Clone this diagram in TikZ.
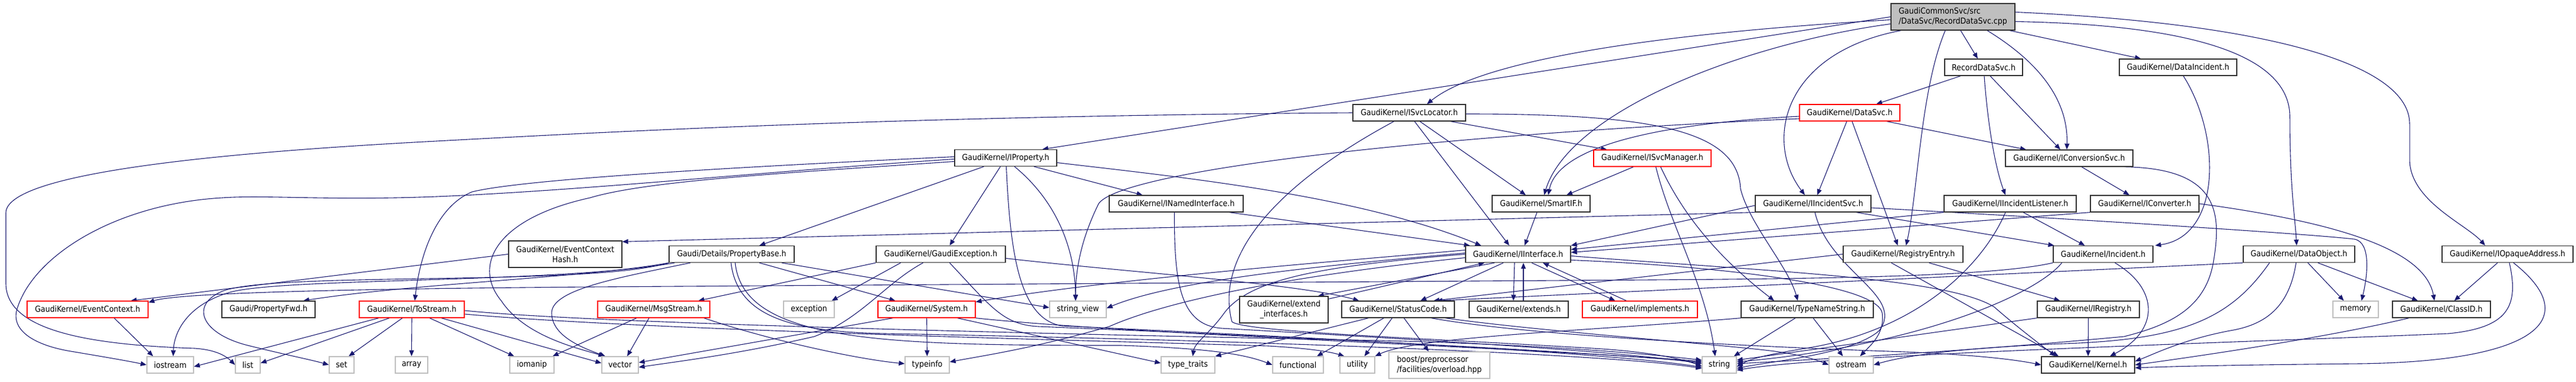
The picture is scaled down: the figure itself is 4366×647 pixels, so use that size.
\documentclass[tikz,border=0pt]{standalone}
\usepackage{fontspec}
\setmainfont{DejaVu Sans Condensed}
\usetikzlibrary{arrows.meta,backgrounds}
\definecolor{edgecol}{RGB}{25,25,112}
\definecolor{boxgray}{RGB}{191,191,191}
\definecolor{boxline}{RGB}{50,50,50}
\begin{document}
\begin{tikzpicture}[x=1pt,y=-1pt,font=\fontsize{14}{17}\selectfont,
  box/.style={draw=boxline,fill=white,line width=1.3pt,rectangle,minimum height=28pt,inner xsep=3pt,inner ysep=2pt,align=center},
  rbox/.style={box,draw=red},
  gbox/.style={box,draw=boxgray},
  e/.style={draw=edgecol,line width=1.1pt,-{Triangle[length=10pt,width=8pt]}}]
\useasboundingbox (0,0) rectangle (4366,647);
% ---- nodes ----
\node[box,fill=boxgray,minimum height=45pt,minimum width=210pt,align=left] (root) at (3310,28.5) {GaudiCommonSvc/src\\/DataSvc/RecordDataSvc.cpp};
\node[box,minimum width=132pt] (rds) at (3362,114) {RecordDataSvc.h};
\node[box,minimum width=199pt] (dinc) at (3691.5,114) {GaudiKernel/DataIncident.h};
\node[box,minimum width=191pt] (svcloc) at (2388.5,191) {GaudiKernel/ISvcLocator.h};
\node[rbox,minimum width=170pt] (datasvc) at (3135,191) {GaudiKernel/DataSvc.h};
\node[box,minimum width=173pt] (iprop) at (1704.5,267.5) {GaudiKernel/IProperty.h};
\node[rbox,minimum width=199pt] (svcmgr) at (2800.5,268) {GaudiKernel/ISvcManager.h};
\node[box,minimum width=216pt] (iconv) at (3507,268) {GaudiKernel/IConversionSvc.h};
\node[box,minimum width=227pt] (inamed) at (1993.5,345) {GaudiKernel/INamedInterface.h};
\node[box,minimum width=166pt] (smartif) at (2612,345) {GaudiKernel/SmartIF.h};
\node[box,minimum width=196pt] (iincsvc) at (3073,345) {GaudiKernel/IIncidentSvc.h};
\node[box,minimum width=224pt] (iinclst) at (3407,345) {GaudiKernel/IIncidentListener.h};
\node[box,minimum width=184pt] (iconvtr) at (3635,345) {GaudiKernel/IConverter.h};
\node[box,minimum width=192pt,minimum height=45pt] (echash) at (958,430.5) {GaudiKernel/EventContext\\Hash.h};
\node[box,minimum width=212pt] (propbase) at (1240,430.5) {Gaudi/Details/PropertyBase.h};
\node[box,minimum width=219pt] (gexc) at (1594.5,430.5) {GaudiKernel/GaudiException.h};
\node[box,minimum width=178pt] (iif) at (2573,430.5) {GaudiKernel/IInterface.h};
\node[box,minimum width=203pt] (regentry) at (3225.5,430.5) {GaudiKernel/RegistryEntry.h};
\node[box,minimum width=169pt] (incident) at (3564.5,430.5) {GaudiKernel/Incident.h};
\node[box,minimum width=189pt] (dataobj) at (3896.5,430.5) {GaudiKernel/DataObject.h};
\node[box,minimum width=222pt] (iopaque) at (4250,430.5) {GaudiKernel/IOpaqueAddress.h};
\node[rbox,minimum width=205pt] (evctx) at (148.5,524) {GaudiKernel/EventContext.h};
\node[box,minimum width=158pt] (propfwd) at (455,524) {Gaudi/PropertyFwd.h};
\node[rbox,minimum width=178pt] (tostream) at (698,524) {GaudiKernel/ToStream.h};
\node[rbox,minimum width=190pt] (msgstream) at (1108,524) {GaudiKernel/MsgStream.h};
\node[gbox,minimum width=86pt] (exception) at (1371,524) {exception};
\node[rbox,minimum width=165pt] (system) at (1570.5,524) {GaudiKernel/System.h};
\node[gbox,minimum width=96pt] (strview) at (1827,524) {string\_view};
\node[box,minimum width=150pt,minimum height=45pt] (extif) at (2176,524.5) {GaudiKernel/extend\\\_interfaces.h};
\node[box,minimum width=191pt] (statuscode) at (2369.5,524) {GaudiKernel/StatusCode.h};
\node[box,minimum width=168pt] (extends) at (2574,524) {GaudiKernel/extends.h};
\node[rbox,minimum width=195pt] (implements) at (2779.5,524) {GaudiKernel/implements.h};
\node[box,minimum width=224pt] (tns) at (3063,524) {GaudiKernel/TypeNameString.h};
\node[box,minimum width=173pt] (iregistry) at (3539.5,524) {GaudiKernel/IRegistry.h};
\node[gbox,minimum width=77pt] (memory) at (3992.5,524) {memory};
\node[box,minimum width=166pt] (classid) at (4138,524) {GaudiKernel/ClassID.h};
\node[gbox,minimum width=79pt] (iostream) at (288.5,618) {iostream};
\node[gbox,minimum width=42pt] (list) at (420,618) {list};
\node[gbox,minimum width=42pt] (set) at (579,618) {set};
\node[gbox,minimum width=55pt] (array) at (697.5,618) {array};
\node[gbox,minimum width=75pt] (iomanip) at (901.5,618) {iomanip};
\node[gbox,minimum width=62pt] (vector) at (1051,618) {vector};
\node[gbox,minimum width=75pt] (typeinfo) at (1571.5,618) {typeinfo};
\node[gbox,minimum width=91pt] (typetraits) at (2013.5,618) {type\_traits};
\node[gbox,minimum width=86pt] (functional) at (2200,618) {functional};
\node[gbox,minimum width=59pt] (utility) at (2300.5,618) {utility};
\node[gbox,minimum width=171pt,minimum height=45pt,align=left] (boost) at (2439.5,618.5) {boost/preprocessor\\/facilities/overload.hpp};
\node[gbox,minimum width=58pt] (string) at (2914,618) {string};
\node[gbox,minimum width=75pt] (ostream) at (3137.5,618) {ostream};
\node[box,minimum width=158pt] (kernel) at (3539,618) {GaudiKernel/Kernel.h};
% ---- edges ----
\begin{pgfonlayer}{background}
% root
\draw[e] (root.west) -- ([xshift=-25]iprop.north east);
\draw[e] ([yshift=-5]root.west) .. controls (2750,60) and (2500,110) .. ([xshift=30]svcloc.north);
\draw[e] ([yshift=-12]root.west) .. controls (2950,75) and (2660,190) .. ([xshift=5]smartif.north);
\draw[e] ([xshift=-88]root.south) .. controls (3020,90) and (2990,240) .. ([xshift=-14]iincsvc.north);
\draw[e] ([xshift=-13]root.south) .. controls (3255,150) and (3250,330) .. ([xshift=5]regentry.north);
\draw[e] ([xshift=13]root.south) -- ([xshift=-10]rds.north);
\draw[e] ([xshift=58]root.south) .. controls (3480,120) and (3505,190) .. ([xshift=-4]iconv.north);
\draw[e] ([xshift=96]root.south) -- ([xshift=-63]dinc.north);
\draw[e] ([yshift=-8]root.east) .. controls (3720,42) and (3883,95) .. (3881,200) .. controls (3881,320) and (3890,370) .. ([xshift=-4]dataobj.north);
\draw[e] ([yshift=8]root.east) .. controls (3850,40) and (4084,110) .. (4084,210) -- (4084,270) .. controls (4084,340) and (4180,380) .. ([xshift=-38]iopaque.north);
% rds, dinc
\draw[e] ([xshift=-39]rds.south) -- ([xshift=45]datasvc.north);
\draw[e] ([xshift=11]rds.south) -- ([xshift=-15]iconv.north);
\draw[e] ([xshift=1]rds.south) .. controls (3368,200) and (3380,280) .. ([xshift=-8]iinclst.north);
\draw[e] ([xshift=9]dinc.south) .. controls (3765,230) and (3765,400) .. ([xshift=3]incident.north east);
% datasvc
\draw[e] ([yshift=-6]datasvc.west) .. controls (2800,210) and (2640,250) .. ([xshift=12]smartif.north);
\draw[e] ([yshift=-10]datasvc.west) .. controls (2400,230) and (1900,290) .. (1862,345) .. controls (1835,400) and (1823,450) .. ([xshift=-4]strview.north);
\draw[e] ([xshift=-5]datasvc.south) -- ([xshift=7]iincsvc.north);
\draw[e] ([xshift=4]datasvc.south) -- ([xshift=-9]regentry.north);
\draw[e] ([xshift=63]datasvc.south) -- ([xshift=-73]iconv.north);
% svcloc
\draw[e] ([xshift=70]svcloc.south) -- ([xshift=-77]svcmgr.north);
\draw[e] ([xshift=18]svcloc.south) -- ([xshift=-26]smartif.north);
\draw[e] ([xshift=9]svcloc.south) -- ([xshift=-15]iif.north);
\draw[e] ([yshift=-2]svcloc.east) .. controls (2800,193) and (2945,220) .. (2950,320) .. controls (2965,380) and (3030,450) .. ([xshift=-16]tns.north);
\draw[e] (svcloc.west) .. controls (1500,197) and (1000,225) .. (740,239) .. controls (300,262) and (12,300) .. (10,360) -- (10,480) .. controls (10,560) and (150,584) .. (330,590) .. controls (360,592) and (380,600) .. (list.west);
\draw[e] ([xshift=-26]svcloc.south) .. controls (2150,320) and (2060,440) .. (2088,545) .. controls (2110,562) and (2400,572) .. (2700,590) .. controls (2800,596) and (2850,608) .. ([yshift=-2]string.west);
% svcmgr
\draw[e] ([xshift=-32]svcmgr.south) -- ([xshift=43]smartif.north);
\draw[e] ([xshift=6]svcmgr.south) .. controls (2830,380) and (2890,480) .. ([xshift=-7]string.north);
\draw[e] ([xshift=14]svcmgr.south) .. controls (2860,380) and (2930,450) .. ([xshift=-56]tns.north);
% iconv, iconvtr
\draw[e] ([xshift=21]iconv.south) -- ([xshift=-26]iconvtr.north);
\draw[e] ([xshift=-15]iconv.south east) .. controls (3760,285) and (3765,360) .. (3752,440) .. controls (3740,520) and (3680,550) .. (3600,570) .. controls (3300,598) and (3050,610) .. ([yshift=2]string.east);
\draw[e] (iconvtr.south west) -- ([yshift=3]iif.east);
\draw[e] (iconvtr.east) .. controls (3950,375) and (4110,420) .. ([xshift=-12]classid.north);
% iinclst
\draw[e] (iinclst.south west) -- ([yshift=8]iif.east);
\draw[e] ([xshift=22]iinclst.south) -- ([xshift=-31]incident.north);
\draw[e] ([xshift=-8]iinclst.south) .. controls (3360,450) and (3250,560) .. (3060,590) .. controls (3000,600) and (2970,606) .. ([yshift=-3]string.east);
% iincsvc
\draw[e] ([yshift=-3]iincsvc.west) -- (iif.north east);
\draw[e] (iincsvc.south west) -- ([yshift=-2]echash.north east);
\draw[e] ([xshift=73]iincsvc.south) -- ([xshift=-83]incident.north);
\draw[e] ([yshift=-7]iincsvc.east) .. controls (3500,370) and (3900,395) .. (3990,405) .. controls (4020,410) and (4012,470) .. ([xshift=10]memory.north);
\draw[e] ([xshift=3]iincsvc.south) .. controls (3100,460) and (3230,500) .. (3185,560) .. controls (3140,600) and (3000,612) .. ([yshift=-6]string.east);
% smartif, inamed
\draw[e] ([xshift=-7]smartif.south) -- ([xshift=11]iif.north);
\draw[e] ([xshift=90]inamed.south) -- ([xshift=8]iif.north west);
\draw[e] ([xshift=-3]inamed.south) .. controls (1990,480) and (2000,550) .. (2070,556) .. controls (2400,575) and (2750,595) .. ([yshift=2]string.west);
% iprop
\draw[e] ([xshift=-37]iprop.south) -- ([xshift=47]propbase.north);
\draw[e] ([xshift=-9]iprop.south) -- ([xshift=15]gexc.north);
\draw[e] ([xshift=1]iprop.south) .. controls (1712,420) and (1725,540) .. (1800,552) .. controls (2300,575) and (2750,600) .. ([yshift=-4]string.west);
\draw[e] ([xshift=15]iprop.south) .. controls (1790,340) and (1822,420) .. ([xshift=-4]strview.north);
\draw[e] ([xshift=48]iprop.south) -- ([xshift=-57]inamed.north);
\draw[e] ([yshift=-8]iprop.east) .. controls (2000,300) and (2300,330) .. ([xshift=27]iif.north west);
\draw[e] ([yshift=2]iprop.west) .. controls (1200,285) and (880,305) .. (800,325) .. controls (740,350) and (712,430) .. ([xshift=5]tostream.north);
\draw[e] ([yshift=-2]iprop.west) .. controls (1300,290) and (1000,322) .. (740,333) .. controls (560,340) and (450,330) .. (377,335) .. controls (200,345) and (60,430) .. (30,520) .. controls (15,560) and (60,585) .. (120,595) .. controls (180,605) and (220,612) .. (iostream.west);
\draw[e] ([yshift=-6]iprop.west) .. controls (1350,292) and (1100,305) .. (1000,335) .. controls (840,370) and (800,450) .. (850,510) .. controls (890,570) and (980,590) .. ([xshift=5]vector.north west);
% propbase
\draw[e] (propbase.south west) .. controls (1000,470) and (700,480) .. ([xshift=59]propfwd.north);
\draw[e] (propbase.south west) .. controls (1000,485) and (480,460) .. (380,492) .. controls (320,515) and (340,565) .. (420,585) .. controls (480,600) and (530,610) .. (set.west);
\draw[e] ([xshift=10]propbase.south west) .. controls (950,480) and (480,470) .. (390,495) .. controls (320,515) and (295,560) .. ([xshift=5]iostream.north);
\draw[e] ([xshift=-70]propbase.south) .. controls (1050,470) and (935,490) .. (935,530) .. controls (935,570) and (990,590) .. ([xshift=-25]vector.north);
\draw[e] ([xshift=47]propbase.south) -- ([xshift=-53]system.north);
\draw[e] ([xshift=85]propbase.south) -- ([yshift=3]strview.west);
\draw[e] ([xshift=-1]propbase.south) .. controls (1250,540) and (1350,562) .. (1500,565) .. controls (2200,578) and (2750,602) .. ([yshift=-6]string.west);
\draw[e] ([xshift=6]propbase.south) .. controls (1260,580) and (1500,585) .. (1900,585) .. controls (2050,590) and (2110,600) .. (functional.west);
% gexc
\draw[e] ([xshift=-68]gexc.south) -- ([xshift=-5]exception.north east);
\draw[e] (gexc.south west) -- ([xshift=-20]msgstream.north east);
\draw[e] ([xshift=-30]gexc.south) .. controls (1500,480) and (1460,540) .. (1380,570) .. controls (1250,600) and (1150,612) .. ([yshift=-4]vector.east);
\draw[e] ([yshift=-7]gexc.east) .. controls (1900,460) and (2200,480) .. ([xshift=-66]statuscode.north);
\draw[e] ([xshift=15]gexc.south) .. controls (1680,520) and (1700,550) .. (1760,553) .. controls (2300,575) and (2750,600) .. ([yshift=4]string.west);
% echash, incident
\draw[e] (echash.west) -- ([xshift=-30]evctx.north east);
\draw[e] (incident.south west) .. controls (3380,468) and (3100,472) .. (2800,474) -- (1000,486) .. controls (600,489) and (300,496) .. ([yshift=-3]evctx.north east);
\draw[e] ([xshift=20]incident.south) .. controls (3660,490) and (3660,560) .. ([xshift=37]kernel.north);
\draw[e] ([xshift=-70]incident.south) .. controls (3450,500) and (3250,585) .. ([yshift=5]string.east);
% tns, iregistry, regentry
\draw[e] ([xshift=-20]tns.south) -- ([xshift=-5]string.north east);
\draw[e] ([xshift=10]tns.south) -- ([xshift=-14]ostream.north);
\draw[e] (tns.south west) .. controls (2700,560) and (2400,570) .. (utility.north east);
\draw[e] (iregistry) -- (kernel);
\draw[e] (iregistry.south west) -- ([yshift=8]string.east);
\draw[e] ([xshift=44]regentry.south) -- ([xshift=-48]iregistry.north);
\draw[e] ([xshift=-20]regentry.south) -- ([xshift=-50]kernel.north);
\draw[e] (regentry.west) -- ([xshift=60]statuscode.north);
% dataobj, classid, iopaque
\draw[e] ([xshift=32]dataobj.south) -- ([xshift=-40]classid.north);
\draw[e] ([xshift=15]dataobj.south) -- ([xshift=-20]memory.north);
\draw[e] ([xshift=-5]dataobj.south) .. controls (3880,520) and (3840,550) .. (3780,560) .. controls (3700,575) and (3650,600) .. ([yshift=6]kernel.east);
\draw[e] (dataobj.south west) -- ([xshift=65]statuscode.north);
\draw[e] ([xshift=-50]dataobj.south) .. controls (3780,540) and (3700,575) .. (3500,582) .. controls (3300,590) and (3220,605) .. (ostream.east);
\draw[e] ([xshift=-55]classid.south) .. controls (3950,570) and (3750,600) .. (kernel.east);
\draw[e] ([xshift=-17]iopaque.south) -- ([xshift=-62]classid.north east);
\draw[e] ([xshift=3]iopaque.south) .. controls (4270,520) and (4250,555) .. (4150,565) .. controls (3800,580) and (3100,600) .. ([yshift=-9]string.east);
\draw[e] ([xshift=10]iopaque.south) .. controls (4380,540) and (4300,612) .. (4000,616) .. controls (3800,618) and (3700,620) .. ([yshift=-5]kernel.east);
% statuscode
\draw[e] ([xshift=10]statuscode.south) -- ([xshift=-18]boost.north);
\draw[e] ([xshift=-10]statuscode.south) -- ([xshift=12]utility.north);
\draw[e] ([xshift=-24]statuscode.south) -- ([xshift=32]functional.north);
\draw[e] ([xshift=-50]statuscode.south) -- (typetraits.north east);
\draw[e] ([xshift=56]statuscode.south) .. controls (2600,570) and (3000,588) .. (3200,595) .. controls (3350,600) and (3420,610) .. (kernel.west);
\draw[e] ([xshift=80]statuscode.south) .. controls (2600,560) and (2900,582) .. (3000,594) .. controls (3050,600) and (3080,610) .. (ostream.west);
% system
\draw[e] (system) -- (typeinfo);
\draw[e] ([xshift=52]system.south) -- ([yshift=3]typetraits.west);
\draw[e] ([xshift=-57]system.south) -- ([yshift=4]vector.east);
\draw[e] (system.south east) .. controls (1900,565) and (2600,590) .. ([yshift=6]string.west);
% interface family
\draw[e] ([yshift=-5]extif.north east) -- ([xshift=-57]iif.south);
\draw[e] ([xshift=-40]iif.south) -- ([xshift=-18]extif.north east);
\draw[e] ([xshift=-6]iif.south) -- ([xshift=-9]extends.north);
\draw[e] ([xshift=8]extends.north) -- ([xshift=9]iif.south);
\draw[e] ([xshift=23]iif.south) -- ([xshift=-42]implements.north);
\draw[e] ([xshift=-23]implements.north) -- ([xshift=42]iif.south);
\draw[e] ([xshift=-25]iif.south) -- ([xshift=38]statuscode.north);
\draw[e] ([yshift=2]iif.west) .. controls (2300,445) and (2000,470) .. ([yshift=2]strview.east);
\draw[e] ([yshift=7]iif.west) .. controls (2300,440) and (1900,470) .. ([yshift=-2]system.north east);
\draw[e] ([yshift=-6]iif.west) .. controls (2250,460) and (2000,500) .. (1880,553) .. controls (1750,590) and (1680,600) .. ([yshift=5]typeinfo.east);
\draw[e] (iif.west) .. controls (2250,450) and (2120,470) .. (2075,530) .. controls (2050,565) and (2025,580) .. ([xshift=8]typetraits.north);
\draw[e] ([yshift=-10]iif.east) .. controls (2900,450) and (3180,480) .. (3190,530) .. controls (3195,565) and (3170,585) .. ([xshift=15]ostream.north);
\draw[e] ([yshift=-3]iif.east) .. controls (3000,460) and (3300,470) .. (3380,520) .. controls (3420,555) and (3460,585) .. ([xshift=-55]kernel.north);
% tostream, msgstream, evctx
\draw[e] ([xshift=45]evctx.south) -- ([xshift=-29]iostream.north);
\draw[e] ([xshift=-56]tostream.south) -- ([yshift=-3]iostream.east);
\draw[e] ([xshift=-38]tostream.south) -- ([yshift=3]list.east);
\draw[e] ([xshift=-16]tostream.south) -- ([xshift=12]set.north);
\draw[e] (tostream.south) -- (array.north);
\draw[e] ([xshift=30]tostream.south) -- ([xshift=-30]iomanip.north);
\draw[e] ([xshift=50]tostream.south) -- ([yshift=3]vector.west);
\draw[e] ([yshift=-2]tostream.east) .. controls (1000,548) and (1800,566) .. (2300,576) .. controls (2600,582) and (2800,600) .. ([yshift=8]string.west);
\draw[e] ([yshift=-8]tostream.east) .. controls (1100,560) and (1900,578) .. (2150,586) .. controls (2220,590) and (2255,596) .. ([xshift=-22]utility.north);
\draw[e] ([xshift=-29]msgstream.south) -- ([xshift=-3]iomanip.north east);
\draw[e] ([xshift=-8]msgstream.south) -- ([xshift=12]vector.north);
\draw[e] ([xshift=85]msgstream.south) .. controls (1300,575) and (1450,608) .. ([yshift=2]typeinfo.west);
\end{pgfonlayer}
\end{tikzpicture}
\end{document}
